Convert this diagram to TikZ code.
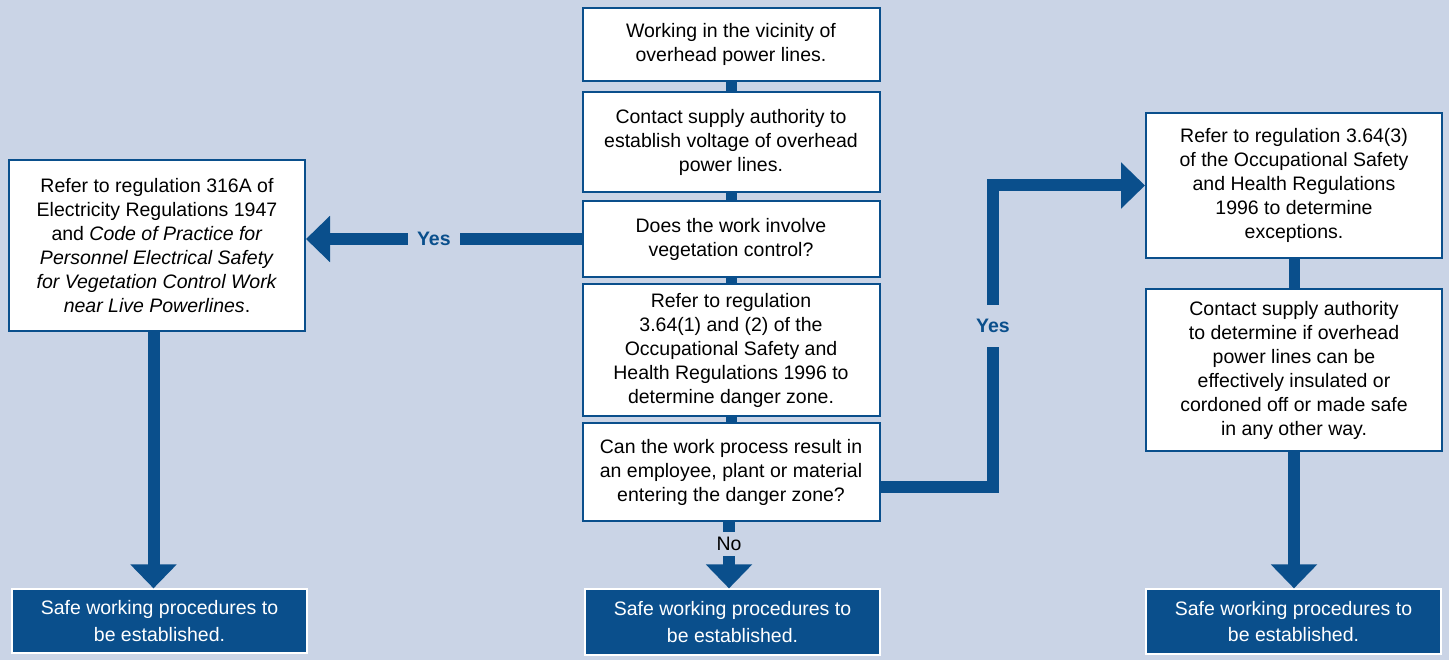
\documentclass[tikz,border=0pt]{standalone}
\usepackage{fontspec}
\setmainfont{Liberation Sans}
\usetikzlibrary{arrows.meta,calc}
\definecolor{bgc}{HTML}{CAD4E6}
\definecolor{dblue}{HTML}{0A4F8C}
\tikzset{
  box/.style={draw=dblue, line width=2pt, fill=white, align=center, inner sep=0pt,
    font=\fontsize{19.5}{24}\selectfont, text=black},
  endbox/.style={draw=white, line width=1.2pt, fill=dblue, align=center, inner sep=0pt,
    font=\fontsize{19.5}{26.5}\selectfont, text=white},
  conn/.style={draw=dblue, line width=11pt},
  bigarrow/.style={draw=dblue, line width=12pt, line join=miter,
    -{Triangle[width=45pt,length=24pt]}},
  yeslabel/.style={fill=bgc, text=dblue, font=\fontsize{19.5}{22}\selectfont\bfseries, inner sep=0pt},
}
\begin{document}
\begin{tikzpicture}[x=1pt,y=-1pt]
\fill[bgc] (0,0) rectangle (1449,660);
\useasboundingbox (0,0) rectangle (1449,660);

% centre column
\node[box, minimum width=297pt, minimum height=73pt] (b1) at (731,44.5)
  {Working in the vicinity of\\overhead power lines.};
\node[box, minimum width=297pt, minimum height=100pt] (b2) at (731,142)
  {Contact supply authority to\\establish voltage of overhead\\power lines.};
\node[box, minimum width=297pt, minimum height=76pt] (b3) at (731,239)
  {Does the work involve\\vegetation control?};
\node[box, minimum width=297pt, minimum height=132pt] (b4) at (731,350)
  {Refer to regulation\\3.64(1) and (2) of the\\Occupational Safety and\\Health Regulations 1996 to\\determine danger zone.};
\node[box, minimum width=297pt, minimum height=98pt] (b5) at (731,472)
  {Can the work process result in\\an employee, plant or material\\entering the danger zone?};

% left column
\node[box, minimum width=296pt, minimum height=171pt] (L) at (157,245.5)
  {Refer to regulation 316A of\\Electricity Regulations 1947\\and \textit{Code of Practice for}\\\textit{Personnel Electrical Safety}\\\textit{for Vegetation Control Work}\\\textit{near Live Powerlines}.};

% right column
\node[box, minimum width=296pt, minimum height=145pt] (R1) at (1294,185.5)
  {Refer to regulation 3.64(3)\\of the Occupational Safety\\and Health Regulations\\1996 to determine\\exceptions.};
\node[box, minimum width=296pt, minimum height=162pt] (R2) at (1294,370)
  {Contact supply authority\\to determine if overhead\\power lines can be\\effectively insulated or\\cordoned off or made safe\\in any other way.};

% end boxes
\node[endbox, minimum width=295pt, minimum height=64pt] (BL) at (159.5,621)
  {Safe working procedures to\\be established.};
\node[endbox, minimum width=295pt, minimum height=66pt] (BC) at (732.5,622)
  {Safe working procedures to\\be established.};
\node[endbox, minimum width=295pt, minimum height=65pt] (BR) at (1293.5,621.5)
  {Safe working procedures to\\be established.};

% short connectors
\draw[conn] (b1.south) -- (b2.north);
\draw[conn] (b2.south) -- (b3.north);
\draw[conn] (b3.south) -- (b4.north);
\draw[conn] (b4.south) -- (b5.north);
\draw[conn] (R1.south) -- (R2.north);

% Yes to the left
\draw[bigarrow] (b3.west) -- (b3.west -| L.east)
  node[yeslabel, pos=0.536, minimum width=52pt, minimum height=14pt] {Yes};

% left column down
\coordinate (ld) at ($(L.south)+(-3.5,0)$);
\draw[bigarrow] (ld) -- (ld |- BL.north);

% right column down
\draw[bigarrow] (R2.south) -- (R2.south |- BR.north);

% Yes to the right
\coordinate (rx) at (993,0);
\draw[bigarrow] ($(b5.east)+(0,14.5)$) -| (rx |- R1.west) -- (R1.west);
\node[yeslabel, minimum width=20pt, minimum height=42pt] (yr) at (993,326) {Yes};

% No downwards
\coordinate (nd) at ($(b5.south)+(-2,0)$);
\draw[bigarrow] (nd) -- (nd |- BC.north);
\node[fill=bgc, inner sep=0pt, minimum width=30pt, minimum height=24pt,
  font=\fontsize{19.5}{22}\selectfont] (no) at (729,544) {No};
\end{tikzpicture}
\end{document}
